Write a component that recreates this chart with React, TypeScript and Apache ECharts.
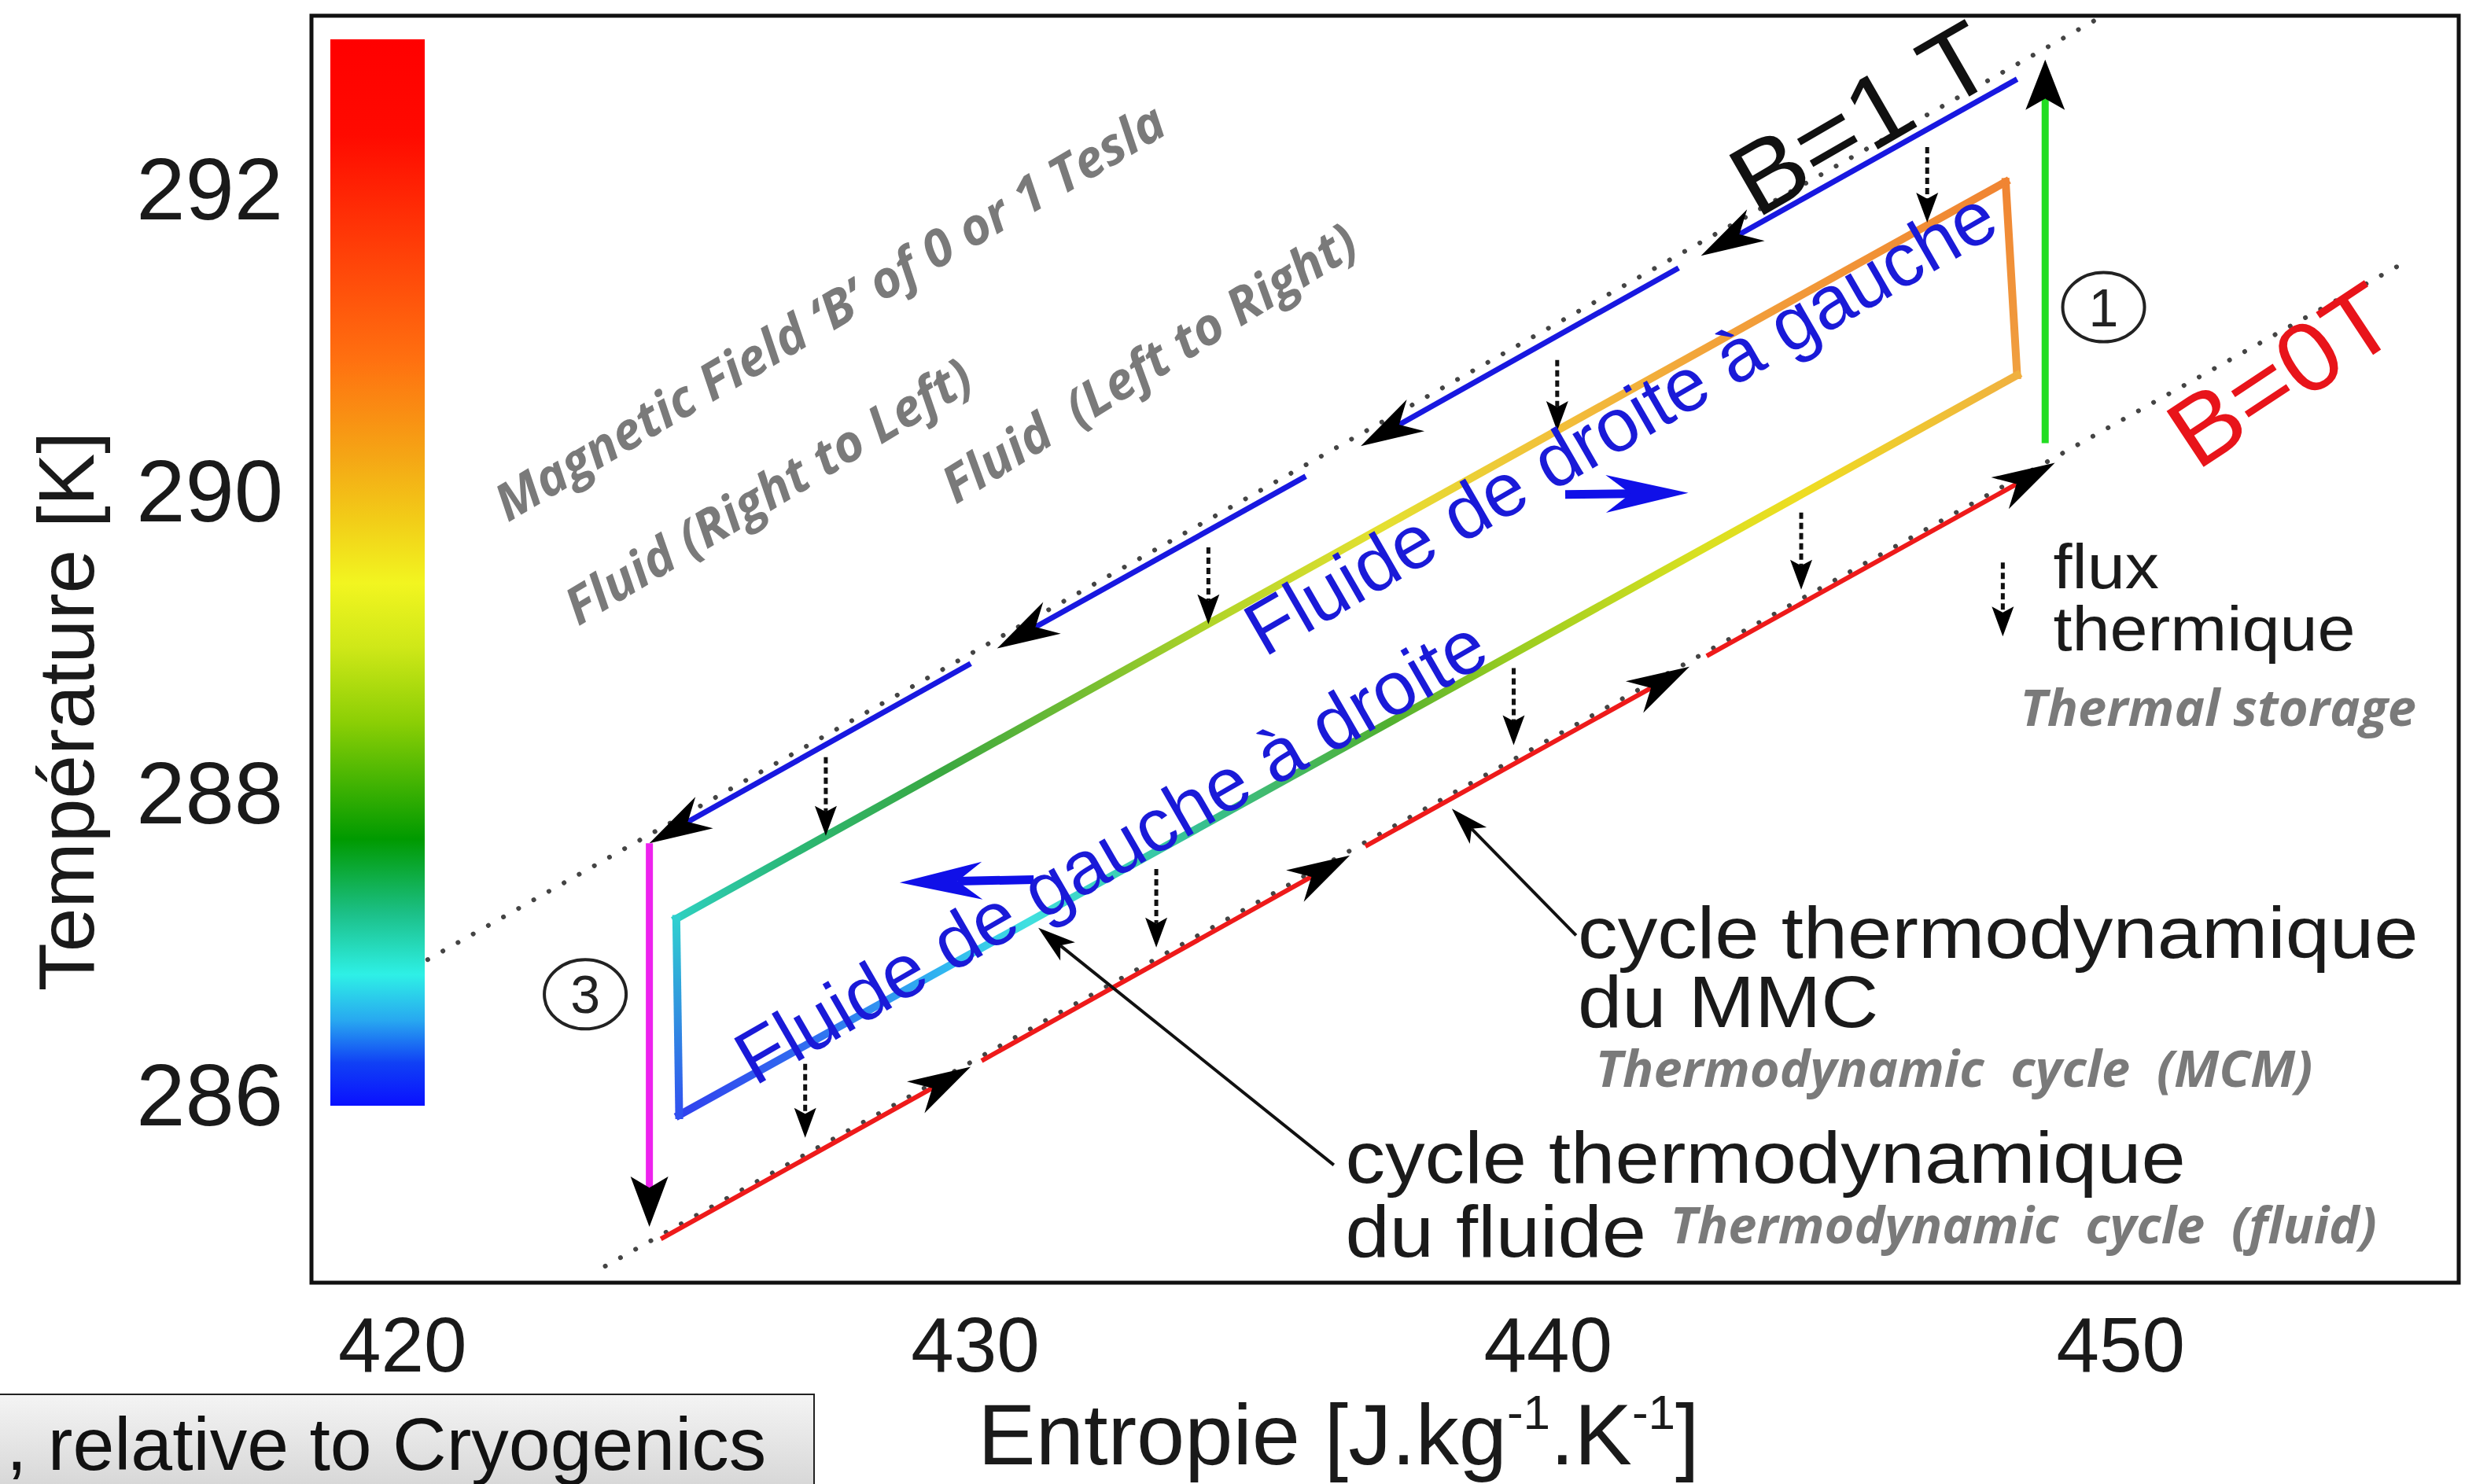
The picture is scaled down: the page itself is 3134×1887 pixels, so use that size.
import React, { useEffect, useRef } from "react";
import * as echarts from "echarts";

// ---------- axes (entropy s [J/kg/K], temperature T [K]) ----------
const xTickValues = [420, 430, 440, 450];
const yTickValues = [286, 288, 290, 292];
const xMin = 418.41;
const xMax = 455.9;
const yMin = 284.76;
const yMax = 293.15;

// ---------- isofield lines [s, T] ----------
const isoFieldB1 = [[420.44, 286.9], [449.55, 293.12]];
const isoFieldB0 = [[423.54, 284.87], [454.97, 291.52]];

// ---------- MCM cycle branches [s tail, T tail, s head, T head] ----------
const mcmAtB1 = [
  [448.19, 292.73, 442.67, 291.56],
  [442.28, 291.48, 436.73, 290.3],
  [435.77, 290.1, 430.38, 288.96],
  [429.92, 288.86, 424.31, 287.67],
];
const mcmAtB0 = [
  [424.51, 285.05, 429.92, 286.19],
  [430.11, 286.23, 436.54, 287.59],
  [436.81, 287.65, 442.47, 288.84],
  [442.77, 288.91, 448.85, 290.19],
];
const step1Magnetisation = [[448.68, 290.32, 448.68, 292.86]];
const step3Demagnetisation = [[424.31, 287.67, 424.31, 285.13]];

// ---------- fluid cycle edges [s, T] ----------
const fluidUpperEdge = [[424.78, 287.17], [447.99, 292.05]];
const fluidRightEdge = [[447.99, 292.05], [448.19, 290.77]];
const fluidLowerEdge = [[424.83, 285.87], [448.19, 290.77]];
const fluidLeftEdge = [[424.78, 287.17], [424.83, 285.87]];

// ---------- heat flux arrows [s, T from, s, T to] ----------
const heatFlux = [
  [446.62, 292.28, 446.62, 291.78],
  [440.16, 290.87, 440.16, 290.4],
  [434.07, 289.63, 434.07, 289.12],
  [427.39, 288.24, 427.39, 287.72],
  [444.42, 289.86, 444.42, 289.35],
  [439.4, 288.83, 439.4, 288.32],
  [433.16, 287.5, 433.16, 286.98],
  [427.03, 286.21, 427.03, 285.72],
];
const heatFluxKey = [[447.94, 289.53, 447.94, 289.04]];
const pointerArrows = [
  [440.49, 287.06, 438.32, 287.9],
  [436.26, 285.54, 431.1, 287.11],
];
const flowDirection = [
  [440.3, 289.98, 442.45, 289.99],
  [431.02, 287.43, 428.68, 287.41],
];

// ---------- annotations ----------
const labelTexts = [
  "Magnetic Field \u2018B\u2019 of 0 or 1 Tesla",
  "Fluid (Right to Left)",
  "Fluid  (Left to Right)",
  "B=1 T",
  "B=0T",
  "Fluide de droite \u00e0 gauche",
  "Fluide de gauche \u00e0 droite",
  "flux",
  "thermique",
  "Thermal storage",
  "cycle thermodynamique",
  "du MMC",
  "Thermodynamic  cycle  (MCM)",
  "cycle thermodynamique",
  "du fluide",
  "Thermodynamic  cycle  (fluid)",
];
const labelAnchors = [
  [427.44, 291.2],
  [426.37, 290.01],
  [433.02, 290.86],
  [445.47, 292.47],
  [452.8, 290.77],
  [441.26, 290.46],
  [432.36, 287.62],
  [448.82, 289.5],
  [448.82, 289.09],
  [451.7, 288.58],
  [440.52, 287.08],
  [440.52, 286.62],
  [447.09, 286.19],
  [436.46, 285.59],
  [436.46, 285.1],
  [448.3, 285.15],
];
const labelKinds = [
  "note", "note", "note", "field1", "field0", "flow", "flow",
  "flux", "flux", "note", "legend", "legend", "note", "legend", "legend", "note",
];
const labelAngles = [30.5, 31, 32, 30, 33.5, 30, 30, 0, 0, 0, 0, 0, 0, 0, 0, 0];

const stepNumbers = ["1", "3"];
const stepAnchors = [[449.7, 291.22], [423.19, 286.67]];

// ---------- styles ----------
const SANS = '"Liberation Sans", Arial, sans-serif';
const kindStyle: Record<string, any> = {
  note: { font: `italic bold 65px "Open Sans", Lato, sans-serif`, fill: "#7a7a7a", scaleX: 1, align: "center" },
  field1: { font: `128px ${SANS}`, fill: "#111", scaleX: 1.05, align: "center" },
  field0: { font: `124px ${SANS}`, fill: "#e8141a", scaleX: 1.05, align: "center" },
  flow: { font: `96px ${SANS}`, fill: "#1a1ad8", scaleX: 1, align: "center" },
  legend: { font: `92px ${SANS}`, fill: "#1a1a1a", scaleX: 1.1, align: "left" },
  flux: { font: `80px ${SANS}`, fill: "#1a1a1a", scaleX: 1.08, align: "left" },
};

type ArrowStyle = {
  shaft?: string;
  shaftWidth?: number;
  dash?: number[];
  head: string;
  len: number;
  width: number;
  notch: number;
};

function arrowSeries(name: string, data: number[][], st: ArrowStyle, z = 3) {
  return {
    type: "custom",
    name,
    data,
    z,
    silent: true,
    clip: false,
    encode: { x: [0, 2], y: [1, 3] },
    renderItem: (_params: any, api: any) => {
      const a = api.coord([api.value(0), api.value(1)]);
      const b = api.coord([api.value(2), api.value(3)]);
      const dx = b[0] - a[0];
      const dy = b[1] - a[1];
      const d = Math.hypot(dx, dy) || 1;
      const ux = dx / d;
      const uy = dy / d;
      const nx = -uy;
      const ny = ux;
      const bx = b[0] - ux * st.len;
      const by = b[1] - uy * st.len;
      const hw = st.width / 2;
      const kx = b[0] - ux * st.len * (1 - st.notch);
      const ky = b[1] - uy * st.len * (1 - st.notch);
      const children: any[] = [];
      if (st.shaft) {
        children.push({
          type: "line",
          shape: { x1: a[0], y1: a[1], x2: kx, y2: ky },
          style: { stroke: st.shaft, lineWidth: st.shaftWidth, lineDash: st.dash, lineCap: "butt" },
        });
      }
      children.push({
        type: "polygon",
        shape: { points: [[b[0], b[1]], [bx + nx * hw, by + ny * hw], [kx, ky], [bx - nx * hw, by - ny * hw]] },
        style: { fill: st.head },
      });
      return { type: "group", children };
    },
  };
}

function edgeSeries(name: string, data: number[][], grad: any) {
  return {
    type: "line",
    name,
    data,
    z: 2,
    silent: true,
    showSymbol: false,
    symbol: "none",
    lineStyle: { width: 10, color: grad, cap: "square" },
  };
}

const lg = (x2: number, y2: number, stops: [number, string][]) =>
  new echarts.graphic.LinearGradient(0, 0, x2, y2, stops.map(([offset, color]) => ({ offset, color })));

export default function App() {
  const ref = useRef<HTMLDivElement>(null);

  useEffect(() => {
    document.body.style.margin = "0";
    if (!ref.current) return;
    const chart = echarts.init(ref.current, undefined, { renderer: "svg" });

    const dotted = { color: "#444", width: 6, type: [0.1, 22], cap: "round" };

    const option: any = {
      animation: false,
      backgroundColor: "#ffffff",
      grid: {
        left: 396,
        right: 8,
        top: 20,
        bottom: 235,
        show: true,
        borderColor: "#111",
        borderWidth: 5,
        backgroundColor: "transparent",
      },
      xAxis: {
        type: "value",
        min: xMin,
        max: xMax,
        axisLine: { show: false },
        axisTick: { show: false },
        splitLine: { show: false },
        axisLabel: {
          customValues: xTickValues,
          fontSize: 98,
          color: "#1a1a1a",
          fontFamily: SANS,
          margin: 30,
        },
        name: "Entropie [J.kg{sup|-1}.K{sup|-1}]",
        nameLocation: "middle",
        nameGap: 96,
        nameTextStyle: {
          fontSize: 110,
          lineHeight: 118,
          color: "#1a1a1a",
          fontFamily: SANS,
          padding: [0, 118, 0, 0],
          rich: {
            sup: { fontSize: 62, lineHeight: 118, verticalAlign: "top", color: "#1a1a1a", fontFamily: SANS },
          },
        },
      },
      yAxis: {
        type: "value",
        min: yMin,
        max: yMax,
        axisLine: { show: false },
        axisTick: { show: false },
        splitLine: { show: false },
        axisLabel: {
          customValues: yTickValues,
          fontSize: 112,
          color: "#1a1a1a",
          fontFamily: SANS,
          margin: 36,
        },
        name: "Temp\u00e9rature [K]",
        nameLocation: "middle",
        nameGap: 262,
        nameTextStyle: {
          fontSize: 100,
          color: "#1a1a1a",
          fontFamily: SANS,
          padding: [0, 158, 0, 0],
        },
      },
      graphic: [
        {
          type: "rect",
          left: 420,
          top: 50,
          shape: { width: 120, height: 1356 },
          style: {
            fill: lg(0, 1, [
              [0, "#ff0000"],
              [0.09, "#ff0a00"],
              [0.2, "#ff4008"],
              [0.3, "#ff7010"],
              [0.39, "#f5a515"],
              [0.45, "#f2cc18"],
              [0.51, "#f2f520"],
              [0.57, "#cfe818"],
              [0.64, "#8ccf05"],
              [0.75, "#009a00"],
              [0.82, "#1cc088"],
              [0.877, "#2ef0e6"],
              [0.92, "#28a8f0"],
              [0.96, "#1040f5"],
              [1, "#0a10ff"],
            ]),
          },
          z: 1,
        },
        {
          type: "rect",
          left: -2,
          top: 1772,
          shape: { width: 1036, height: 130 },
          style: {
            fill: lg(0, 1, [[0, "#f4f4f4"], [1, "#d4d4d4"]]),
            stroke: "#222",
            lineWidth: 2,
          },
          z: 1,
        },
        {
          type: "text",
          left: 8,
          top: 1788,
          style: {
            text: ", relative to Cryogenics",
            font: `95px ${SANS}`,
            fill: "#111",
          },
          z: 2,
        },
      ],
      series: [
        {
          type: "line",
          name: "B=1T",
          data: isoFieldB1,
          showSymbol: false,
          symbol: "none",
          silent: true,
          z: 1,
          lineStyle: dotted,
        },
        {
          type: "line",
          name: "B=0T",
          data: isoFieldB0,
          showSymbol: false,
          symbol: "none",
          silent: true,
          z: 1,
          lineStyle: dotted,
        },
        edgeSeries(
          "fluid upper",
          fluidUpperEdge,
          lg(1, 0, [
            [0, "#2ed0c0"],
            [0.083, "#2ab878"],
            [0.2, "#3aa840"],
            [0.32, "#7cc030"],
            [0.4, "#b0d428"],
            [0.53, "#e4e030"],
            [0.66, "#f2c03a"],
            [0.79, "#f2a03a"],
            [1, "#f08432"],
          ])
        ),
        edgeSeries("fluid right", fluidRightEdge, lg(0, 1, [[0, "#f08432"], [1, "#f0a040"]])),
        edgeSeries(
          "fluid lower",
          fluidLowerEdge,
          lg(1, 0, [
            [0, "#3040ee"],
            [0.1, "#3070f0"],
            [0.2, "#30b8f0"],
            [0.26, "#40e0e0"],
            [0.39, "#38c090"],
            [0.53, "#50b030"],
            [0.62, "#98cc20"],
            [0.76, "#d8e020"],
            [0.84, "#eedd22"],
            [1, "#f0b040"],
          ])
        ),
        edgeSeries("fluid left", fluidLeftEdge, lg(0, 1, [[0, "#30d0d0"], [1, "#3050f0"]])),
        arrowSeries("MCM B=1T", mcmAtB1, { shaft: "#1818e0", shaftWidth: 7, head: "#000", len: 80, width: 46, notch: 0.3 }),
        arrowSeries("MCM B=0T", mcmAtB0, { shaft: "#ee1a1a", shaftWidth: 6, head: "#000", len: 80, width: 46, notch: 0.3 }),
        arrowSeries("step 1", step1Magnetisation, { shaft: "#22dd22", shaftWidth: 9, head: "#000", len: 64, width: 50, notch: 0.22 }),
        arrowSeries("step 3", step3Demagnetisation, { shaft: "#ee22ee", shaftWidth: 9, head: "#000", len: 64, width: 48, notch: 0.22 }),
        arrowSeries("heat flux", heatFlux, { shaft: "#111", shaftWidth: 5, dash: [8, 5], head: "#000", len: 38, width: 28, notch: 0.2 }),
        arrowSeries("heat flux key", heatFluxKey, { shaft: "#111", shaftWidth: 5, dash: [8, 5], head: "#000", len: 38, width: 28, notch: 0.2 }),
        arrowSeries("pointers", pointerArrows, { shaft: "#111", shaftWidth: 4, head: "#000", len: 48, width: 30, notch: 0.25 }),
        arrowSeries("flow direction", flowDirection, { shaft: "#1010e8", shaftWidth: 11, head: "#1010e8", len: 105, width: 48, notch: 0.3 }),
        {
          type: "custom",
          name: "labels",
          data: labelAnchors,
          z: 5,
          silent: true,
          clip: false,
          encode: { x: 0, y: 1 },
          renderItem: (params: any, api: any) => {
            const i = params.dataIndex;
            const p = api.coord([api.value(0), api.value(1)]);
            const st = kindStyle[labelKinds[i]];
            return {
              type: "text",
              x: p[0],
              y: p[1],
              rotation: (labelAngles[i] * Math.PI) / 180,
              scaleX: st.scaleX,
              style: {
                text: labelTexts[i],
                font: st.font,
                fill: st.fill,
                align: st.align,
                verticalAlign: "middle",
              },
            };
          },
        },
        {
          type: "custom",
          name: "steps",
          data: stepAnchors,
          z: 5,
          silent: true,
          clip: false,
          encode: { x: 0, y: 1 },
          renderItem: (params: any, api: any) => {
            const p = api.coord([api.value(0), api.value(1)]);
            return {
              type: "group",
              children: [
                {
                  type: "ellipse",
                  shape: { cx: p[0], cy: p[1], rx: 52, ry: 44 },
                  style: { fill: "none", stroke: "#222", lineWidth: 4 },
                },
                {
                  type: "text",
                  x: p[0],
                  y: p[1],
                  style: {
                    text: stepNumbers[params.dataIndex],
                    font: `68px ${SANS}`,
                    fill: "#222",
                    align: "center",
                    verticalAlign: "middle",
                  },
                },
              ],
            };
          },
        },
      ],
    };

    chart.setOption(option);
    return () => chart.dispose();
  }, []);

  return (
    <div
      ref={ref}
      style={{ position: "fixed", left: 0, top: 0, width: 3134, height: 1887, background: "#fff" }}
    />
  );
}
